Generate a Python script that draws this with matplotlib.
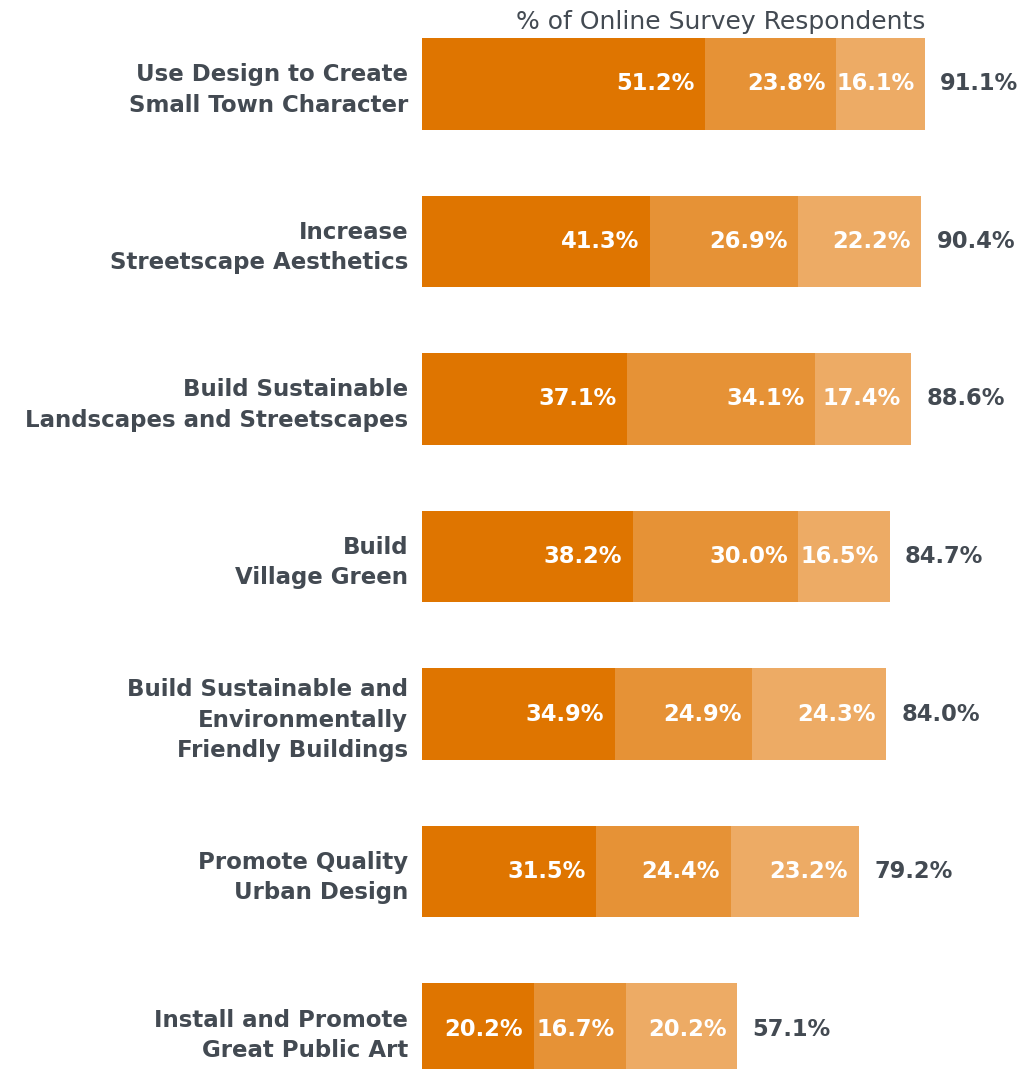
import matplotlib.pyplot as plt
import numpy as np

categories = [
    "Use Design to Create\nSmall Town Character",
    "Increase\nStreetscape Aesthetics",
    "Build Sustainable\nLandscapes and Streetscapes",
    "Build\nVillage Green",
    "Build Sustainable and\nEnvironmentally\nFriendly Buildings",
    "Promote Quality\nUrban Design",
    "Install and Promote\nGreat Public Art",
]
strongly = [51.2, 41.3, 37.1, 38.2, 34.9, 31.5, 20.2]
moderately = [23.8, 26.9, 34.1, 30.0, 24.9, 24.4, 16.7]
somewhat = [16.1, 22.2, 17.4, 16.5, 24.3, 23.2, 20.2]
totals = [91.1, 90.4, 88.6, 84.7, 84.0, 79.2, 57.1]

colors = ["#DF7500", "#E69236", "#EDAB65"]
text_color = "#434A52"
font = "DejaVu Sans"

W, H = 1022, 1069
fig = plt.figure(figsize=(W / 100, H / 100), dpi=100)
# axes spans bar area: left at 422px, top of first bar 38px, bottom of last bar ~1075px
left = 422 / W
right = (422 + 100 * 5.52) / W
top = 1 - 38 / H
bottom = 1 - 1075 / H
ax = fig.add_axes([left, bottom, right - left, top - bottom])

y = np.arange(len(categories))
h = 0.584
starts = np.zeros(len(categories))
for series, c in zip([strongly, moderately, somewhat], colors):
    vals = np.array(series)
    ax.barh(y, vals, left=starts, height=h, color=c, edgecolor="none")
    for yi, s, v in zip(y, starts, vals):
        ax.text(s + v - 1.9, yi, "{:.1f}%".format(v), ha="right", va="center",
                color="white", fontsize=16.3, fontweight="bold", family=font)
    starts = starts + vals

for yi, tot, end in zip(y, totals, starts):
    ax.text(end + 2.8, yi, "{:.1f}%".format(tot), ha="left", va="center",
            color=text_color, fontsize=16.3, fontweight="bold", family=font,
            clip_on=False)

ax.set_xlim(0, 100)
ax.set_ylim(len(categories) - 1 + h / 2, -h / 2)
ax.set_yticks(y)
ax.set_yticklabels(categories, fontsize=16.5, fontweight="bold", family=font,
                   color=text_color, linespacing=1.4)
ax.tick_params(axis="y", length=0, pad=10)
ax.set_xticks([])
for sp in ax.spines.values():
    sp.set_visible(False)

fig.text(721 / W, 1 - 22 / H, "% of Online Survey Respondents", ha="center",
         va="center", fontsize=18, color=text_color, family=font)

fig.savefig("out.png", dpi=100)
